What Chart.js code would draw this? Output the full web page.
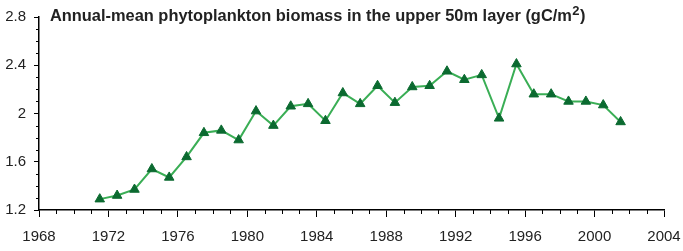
<!DOCTYPE html>
<html>
<head>
<meta charset="utf-8">
<script src="https://cdn.jsdelivr.net/npm/chart.js@4.4.1/dist/chart.umd.min.js"></script>
<style>
  body { margin: 0; background: #fff; }
  #wrap { width: 683px; height: 251px; }
</style>
</head>
<body>
<div id="wrap"><canvas id="mycanvas" width="683" height="251"></canvas></div>
<script>
var years = [1971, 1972, 1973, 1974, 1975, 1976, 1977, 1978, 1979, 1980,
             1981, 1982, 1983, 1984, 1985, 1986, 1987, 1988, 1989, 1990,
             1991, 1992, 1993, 1994, 1995, 1996, 1997, 1998, 1999, 2000, 2001];
var biomass = [1.29, 1.32, 1.37, 1.54, 1.47, 1.64, 1.84, 1.86, 1.78, 2.02,
               1.90, 2.06, 2.08, 1.94, 2.17, 2.08, 2.23, 2.09, 2.22, 2.23,
               2.35, 2.28, 2.32, 1.96, 2.41, 2.16, 2.16, 2.10, 2.10, 2.07, 1.93];
var xTicks = [1968, 1972, 1976, 1980, 1984, 1988, 1992, 1996, 2000, 2004];
var yTicks = [1.2, 1.6, 2, 2.4, 2.8];
var titleText = "Annual-mean phytoplankton biomass in the upper 50m layer (gC/m";
var titleSup = "2";

var FONT = '"Liberation Sans", Arial, Helvetica, sans-serif';

// points sit in the middle of each year
var points = [];
for (var i = 0; i < years.length; i++) {
	points.push({ x: years[i] + 0.5, y: biomass[i] });
}

// minor ticks (every year / every 0.1) and the title
var extras = {
	id: 'extras',
	afterDraw: function(chart) {
		var ctx = chart.ctx;
		var xs = chart.scales.x, ys = chart.scales.y;
		var area = chart.chartArea;
		ctx.save();
		ctx.strokeStyle = '#000';
		ctx.lineWidth = 1;
		ctx.beginPath();
		for (var yr = xTicks[0]; yr <= xTicks[xTicks.length - 1]; yr++) {
			if (xTicks.indexOf(yr) >= 0) continue;
			var px = Math.round(xs.getPixelForValue(yr)) + 0.5;
			ctx.moveTo(px, area.bottom);
			ctx.lineTo(px, area.bottom + 4);
		}
		for (var k = 12; k <= 28; k++) {
			if (k % 4 === 0) continue;
			var py = Math.round(ys.getPixelForValue(k / 10)) + 0.5;
			ctx.moveTo(area.left, py);
			ctx.lineTo(area.left - 3, py);
		}
		ctx.stroke();

		ctx.fillStyle = '#222';
		ctx.textBaseline = 'alphabetic';
		ctx.font = 'bold 16.4px ' + FONT;
		var tx = area.left + 11, ty = 21;
		ctx.fillText(titleText, tx, ty);
		var w = ctx.measureText(titleText).width;
		ctx.font = 'bold 13px ' + FONT;
		ctx.fillText(titleSup, tx + w + 0.5, ty - 6);
		var w2 = ctx.measureText(titleSup).width;
		ctx.font = 'bold 16.4px ' + FONT;
		ctx.fillText(')', tx + w + w2 + 1, ty);
		ctx.restore();
	}
};

var ctx = document.getElementById('mycanvas');

var lineChart = new Chart(ctx, {
	type: 'line',
	data: {
		datasets: [{
			data: points,
			borderColor: '#3aae55',
			borderWidth: 2,
			pointStyle: 'triangle',
			pointRadius: 5.5,
			pointBackgroundColor: '#0b6a30',
			pointBorderColor: '#0b6a30',
			pointBorderWidth: 1,
			tension: 0
		}]
	},
	options: {
		responsive: false,
		animation: false,
		events: [],
		layout: { padding: { left: 0, right: 19, top: 13, bottom: 0 } },
		plugins: {
			legend: { display: false },
			title: { display: false },
			tooltip: { enabled: false }
		},
		scales: {
			x: {
				type: 'linear',
				min: 1968,
				max: 2004,
				afterFit: function(s) {
					s.height = 41;
					s.paddingLeft = 0;
					s.paddingRight = 0;
				},
				afterBuildTicks: function(s) {
					s.ticks = xTicks.map(function(v) { return { value: v }; });
				},
				ticks: {
					color: '#222',
					font: { family: FONT, size: 15 },
					padding: 11,
					maxRotation: 0,
					autoSkip: false,
					callback: function(v) { return String(v); }
				},
				grid: {
					drawOnChartArea: false,
					drawTicks: true,
					tickLength: 7,
					tickColor: '#000',
					tickWidth: 1
				},
				border: { display: true, color: '#000', width: 1.5 }
			},
			y: {
				min: 1.2,
				max: 2.8,
				afterFit: function(s) { s.width = 39; },
				afterBuildTicks: function(s) {
					s.ticks = yTicks.map(function(v) { return { value: v }; });
				},
				ticks: {
					color: '#222',
					font: { family: FONT, size: 15 },
					padding: 8,
					autoSkip: false,
					callback: function(v) { return String(+v.toFixed(1)); }
				},
				grid: {
					drawOnChartArea: false,
					drawTicks: true,
					tickLength: 5,
					tickColor: '#000',
					tickWidth: 1
				},
				border: { display: true, color: '#000', width: 1.5 }
			}
		}
	},
	plugins: [extras]
});
</script>
</body>
</html>
